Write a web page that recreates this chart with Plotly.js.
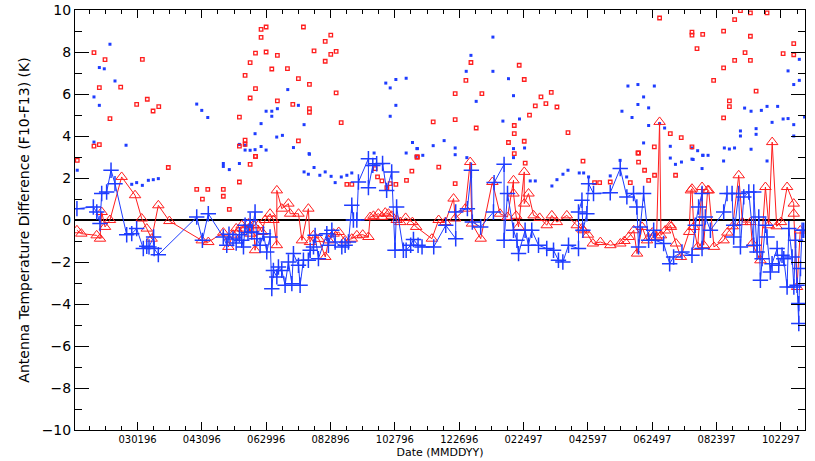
<!DOCTYPE html>
<html>
<head>
<meta charset="utf-8">
<script src="https://cdn.plot.ly/plotly-3.0.1.min.js"></script>
<style>html,body{margin:0;padding:0;background:#fff;}#chart{width:815px;height:461px;}</style>
</head>
<body>
<div id="chart"></div>
<script>
// x values: days since 01 Jan 1996
const tickDays = [60, 120, 180, 240, 300, 360, 420, 480, 540, 600, 660];
const tickLabels = ["030196", "043096", "062996", "082896", "102796", "122696", "022497", "042597", "062497", "082397", "102297"];

// Blue crosses with line
const blueLineDays = [3.5,18.8,22,25,26.6,31.2,35.3,39,49.9,54.6,59.2,65.4,68.6,70.7,75,75.5,79.4,115.2,120.5,126,140,143.2,145.3,149,152,155,157.2,158.8,160.3,163,165,166.5,169.6,171.2,174.3,177.4,180.5,183.6,185.2,186.7,189.9,191.4,194.5,197.6,200.7,203.9,205.4,210.1,211.6,214.7,219.3,221,224.1,225.6,228.7,236.5,238,241.2,244.3,250.5,253.6,256.7,259.8,261.3,264.5,266,275.3,275.3,279.4,283,288.5,292.3,297,300.1,301.6,307.9,310.5,314.7,317.3,321.6,325.3,336.2,347.4,356.7,356.7,367.6,371.3,372.2,380,391.9,392.5,401.8,401.8,405,410.6,413.8,415.3,421.4,424.5,427.6,433.9,441.6,447.9,452.5,456.6,461.9,471.2,471.2,474.4,475.3,479,480.6,485.2,500.8,510.1,516.3,522.5,525.6,527.2,528.8,531.9,536.6,541.3,542.8,550.6,556.2,559.9,567.7,577,580.1,583.2,586.4,586.4,589.5,594.2,606.6,609.7,614.4,615.9,615.9,620.5,622.2,625.3,630,634.6,634.6,637.7,639.3,640.8,642.4,645.5,647,650.1,651.7,656.4,657.9,661,662.6,665.7,667.3,670.4,672,673.6,675,676.6,676.6,678.2,679.7,681.2];
const blueLineVals = [0.54,0.62,0.38,-0.17,1.26,1.33,2.37,1.73,-0.7,-0.65,-0.41,-1.36,-1.25,-1.28,-0.81,-1.36,-1.65,0.14,-0.97,0.3,-0.81,-1.2,-0.68,-0.9,-1.1,-0.7,-0.97,-1.28,-0.25,-0.6,-0.01,-0.57,0.38,-0.89,-1.2,-0.65,-1.52,-0.81,-3.27,-2.4,-2.71,-2.24,-2.4,-3.11,-2.0,-3.03,-1.6,-2.16,-3.11,-1.92,-1.92,-1.44,-1.28,-0.73,-1.84,-0.65,-1.2,-0.49,-1.05,-1.28,-1.2,-1.05,0.7,0.0,0.0,1.81,2.92,1.54,2.6,2.68,2.69,1.41,2.29,-1.44,0.62,-1.44,-1.44,-1.2,-0.93,-1.2,-1.28,-1.28,-0.25,-0.89,0.38,0.54,2.37,-0.1,-0.33,0.38,1.78,2.65,-0.97,1.26,-0.49,-0.97,-1.6,-0.49,-1.2,-0.49,-1.2,-1.36,-1.44,-1.92,-2.0,-1.2,-1.36,0.38,0.94,-0.49,0.3,1.73,1.26,1.3,2.45,1.1,1.26,0.62,-1.28,-0.33,1.26,-0.97,-0.49,-0.97,-1.12,-2.08,-1.76,-1.52,-1.68,-0.25,0.62,1.26,-1.36,0.14,-0.49,0.38,1.26,1.26,-0.25,-0.81,1.26,-1.28,1.1,1.33,-1.2,1.33,-1.52,0.14,-2.87,-1.84,-0.25,-0.81,-2.48,-2.08,-1.36,-2.16,-1.68,-1.84,-3.19,-0.41,-1.76,-3.19,-0.97,-3.11,-4.93,-3.98,-2.31,-0.49,-0.49];

// Red triangles with line
const redLineDays = [3.5,7.6,21.9,25,26.6,29.7,34.3,45.2,57.7,63.9,68.6,73.2,79.4,89.7,119.9,126,140,144.7,149,152,154,157.2,160.3,163.4,165,168.1,169.6,172.7,175.9,179,183.6,186.7,189.9,189.9,194.5,200.7,202.3,210.1,213.3,219.3,220.8,224,229,235.1,238.2,242.9,247.6,253.6,259.8,264.5,270,275.3,276.9,280,284.6,288,291,294,297,301.7,305,310,316.3,319.8,334.5,340.8,347,354.7,356.2,365.6,370.2,371.8,380,390.9,398,405,410.6,410.6,413,415.3,420.6,420.6,424.6,429.3,435,441.6,446.3,451,460.3,469.6,474.3,475.8,480,484.6,491.6,500.9,510.2,514,518,522.7,525.8,530.5,535.1,540,544,546.8,548.1,552,556.9,557.4,562.1,566.7,574.4,576,577,578.6,582.3,586.4,587.9,591.6,592.6,597.5,606.5,610,615,620.6,624,631.6,633.2,640.8,645.5,648.6,651.8,656,660,665.7,671.9,671.9,675,678];
const redLineVals = [-0.49,-0.65,-0.73,-0.89,0.38,-0.33,0.0,2.05,1.18,0.07,-0.41,-0.89,0.7,-0.05,-0.97,-1.05,-0.6,-1.28,-0.7,-0.4,-0.57,-0.25,-0.41,-0.17,-0.65,-0.25,-1.44,-0.25,-0.57,0.0,0.3,0.0,-1.2,1.41,0.54,0.78,0.3,0.3,-0.97,0.54,-1.05,-0.73,-0.9,-1.76,-0.97,-0.65,-0.57,-0.97,-0.89,-0.73,-0.7,-0.81,0.14,0.2,0.3,0.15,0.35,0.3,0.2,0.0,-0.1,0.1,-0.1,-0.33,-0.89,0.0,-0.1,1.02,0.07,0.54,2.76,-0.17,-0.89,1.81,0.3,0.14,1.89,1.26,0.2,-0.33,2.29,0.78,1.26,0.22,0.1,-0.25,0.22,-0.1,0.22,-0.25,-0.41,-0.49,-0.7,-1.12,-1.05,-1.2,-1.12,-1.0,-0.81,-0.49,-1.6,-0.33,-0.97,-0.6,-0.8,4.67,-0.73,-0.5,-0.25,-0.33,-1.12,-1.76,-0.57,1.41,1.49,-0.33,-1.28,1.57,-1.2,1.41,1.41,-1.28,-0.97,-0.6,-0.3,2.13,-0.1,-0.1,-1.12,-1.92,1.57,-0.25,3.71,-0.3,-0.1,1.57,0.78,0.3,-3.19,-0.5];

// Blue dots (no line)
const blueDotDays = [34.3,24.4,29,39,19.4,24.4,49.3,19.4,115.2,119.9,125.5,175.2,169.6,179.9,185.2,185.2,190.4,189.8,195.1,200.1,205.4,210,215.3,220,155,160.3,160.3,165,169.6,175.2,179.9,291.5,295.6,300.9,310.5,295.6,300.9,316.4,310.5,320.5,280.6,391.4,370.9,366.5,391.4,405.9,410.6,375.8,400.7,416.2,321,326,335.7,345.9,356.2,356.2,410.6,420.9,410.6,511.7,517.3,526.6,541.9,531.9,526.6,536.6,521.1,536.6,546.8,551.5,531.9,556.8,556.8,577,577,582.3,587,592,626.1,632.1,641.7,647,656.9,651.7,662,666.6,671.9,677.1,671.9,677.1,666.6,682,622.2,622.2,636.8,636.8,671.9,607.2,611.9,616.7,632.1,3.8,54.6,59.2,64.5,70.1,74.7,79.4,140,140,145.6,155,215.3,219.3,224.6,230,235,240.5,244.3,250,255.2,259.8,220.3,319.8,367.1,426.2,430.9,446.4,451.1,456.7,461.4,471.9,476,480.6,500.8,510,516.1,561.6,567.2,578.1,586.4,587.3,606.5,647];
const blueDotVals = [8.37,7.26,7.2,6.62,5.86,5.46,3.56,3.71,5.52,5.22,4.88,4.59,4.11,5.18,5.18,4.94,5.3,3.95,4.03,6.21,3.45,5.46,4.54,3.16,3.6,3.56,3.33,3.32,3.35,3.5,3.33,6.52,6.29,6.69,6.75,4.94,5.46,3.69,3.19,3.4,3.19,8.71,7.84,7.08,7.08,6.73,5.92,5.65,4.71,4.81,3.4,3.08,3.54,3.78,3.43,3.11,3.4,3.43,2.97,5.18,6.38,6.45,6.38,5.86,5.5,5.34,4.88,4.5,4.59,4.38,3.67,3.51,2.95,3.43,2.9,3.3,3.08,3.08,5.33,5.18,5.22,5.41,5.41,4.65,4.81,4.83,4.54,6.65,6.45,7.65,7.1,4.9,4.24,4.0,4.35,4.08,4.0,3.43,3.38,3.43,3.37,2.37,1.7,1.78,1.65,1.89,1.92,1.97,2.69,2.55,2.4,2.69,2.29,2.18,2.5,2.13,2.29,2.08,1.78,2.05,2.13,2.24,3.13,3.03,2.97,1.86,1.86,1.62,1.92,2.18,2.37,2.24,2.24,2.05,2.1,2.84,2.05,2.65,2.76,2.88,2.45,3.08,2.81,2.81,2.76];

// Red open squares (no line)
const redSqDays = [19.4,29.7,24.4,44.3,59.2,69.1,74.5,79.8,34.3,64.5,19.4,24.4,155,160.3,160.3,155,160.3,165,170,170,165,170,175.2,175.2,179.9,179.9,185.2,190.4,190.4,199.8,204.8,210,210,214.7,220.3,220.3,220.3,224.6,235,235,240.2,240.2,245.2,245.2,249.9,320.5,546.8,577,577,587,581.7,606.5,616.8,622.2,631.5,647,631.5,626.5,616.8,631.5,606.5,597.2,636.8,611.9,611.9,606.5,671.9,662,671.9,335.7,356.2,356.2,370.9,366.2,381.1,375.8,415.9,420.6,430.9,436.2,440.8,445.8,451.1,425.5,411.3,411.3,405.9,411.3,420.6,461.4,321,541.9,526.6,556.8,567,577,3.8,88.7,115.2,120.5,125.5,140,140,145.6,155,165,170,255.2,259.8,281.6,287.9,292.5,295.6,300.9,310.8,283.8,315.8,340.9,356.2,421.5,475.4,486.2,490.9,500.8,519.5,527.2,527.2,532.8,536.6,542.1,561.7];
const redSqVals = [7.97,7.64,6.3,6.33,5.51,5.75,5.19,5.4,4.83,7.65,3.52,3.59,4.9,3.8,3.6,3.52,6.89,7.49,7.95,6.26,5.81,3.03,9.08,8.7,9.19,8.0,7.19,7.84,5.67,7.21,5.51,6.73,3.77,9.19,6.46,5.3,5.13,8.05,8.51,7.56,8.8,7.89,8.03,6.05,4.64,3.0,9.62,8.95,8.8,8.84,8.16,8.99,9.54,9.97,9.86,9.86,8.75,7.97,7.6,7.6,7.24,6.65,6.14,5.67,5.4,4.86,8.4,7.92,7.87,4.67,6.02,4.78,7.5,6.65,6.02,4.38,7.37,6.69,5.43,5.86,5.54,6.08,5.38,4.99,4.5,4.11,3.69,3.16,3.75,4.16,3.0,3.48,3.19,4.11,3.92,3.48,2.84,2.5,1.46,0.99,1.46,1.46,1.13,0.51,1.81,2.65,3.03,1.7,1.7,2.45,1.86,1.54,1.73,1.7,1.89,2.05,2.33,2.52,1.73,2.71,2.8,1.78,1.78,1.81,1.78,3.19,2.76,2.37,1.89,2.13,2.13];

const BLUE = 'rgb(30,60,255)';
const RED = 'rgb(255,30,30)';

const traces = [
  {x: blueDotDays, y: blueDotVals, type: 'scatter', mode: 'markers',
   marker: {symbol: 'square', size: 3, color: BLUE}, hoverinfo: 'skip'},
  {x: redSqDays, y: redSqVals, type: 'scatter', mode: 'markers',
   marker: {symbol: 'square-open', size: 3.5, color: RED, line: {width: 1.3, color: RED}}, hoverinfo: 'skip'},
  {x: redLineDays, y: redLineVals, type: 'scatter', mode: 'lines+markers',
   line: {color: RED, width: 1},
   marker: {symbol: 'triangle-up-open', size: 10, color: RED, line: {width: 1, color: RED}}, hoverinfo: 'skip'},
  {x: blueLineDays, y: blueLineVals, type: 'scatter', mode: 'lines+markers',
   line: {color: BLUE, width: 1},
   marker: {symbol: 'cross-thin-open', size: 11, color: BLUE, line: {width: 1.5, color: BLUE}}, hoverinfo: 'skip'}
];

const layout = {
  width: 815, height: 461,
  margin: {l: 75, r: 10, t: 10, b: 31, pad: 0},
  paper_bgcolor: '#fff', plot_bgcolor: '#fff',
  showlegend: false,
  font: {family: 'DejaVu Sans, sans-serif', color: '#000'},
  xaxis: {
    range: [1.7, 682.4], tickmode: 'array', tickvals: tickDays, ticktext: tickLabels,
    ticks: 'inside', ticklen: 8, tickwidth: 1, tickcolor: '#000',
    showline: true, linecolor: '#000', linewidth: 1, mirror: 'allticks',
    showgrid: false, zeroline: false,
    tickfont: {size: 10, family: 'DejaVu Sans, sans-serif'},
    minor: {tickmode: 'linear', tick0: 0, dtick: 15, ticks: 'inside', ticklen: 4, tickcolor: '#000', showgrid: false},
    title: {text: 'Date (MMDDYY)', font: {size: 11}, standoff: 4}
  },
  yaxis: {
    range: [-10, 10], tickmode: 'linear', tick0: -10, dtick: 2,
    ticks: 'inside', ticklen: 14, tickwidth: 1, tickcolor: '#000',
    showline: true, linecolor: '#000', linewidth: 1, mirror: 'allticks',
    showgrid: false, zeroline: true, zerolinecolor: '#000', zerolinewidth: 2,
    tickfont: {size: 14, family: 'DejaVu Sans, sans-serif'},
    minor: {tickmode: 'linear', tick0: -10, dtick: 1, ticks: 'inside', ticklen: 7, tickcolor: '#000', showgrid: false},
    title: {text: 'Antenna Temperature Difference (F10-F13) (K)', font: {size: 14}, standoff: 8}
  }
};

Plotly.newPlot('chart', traces, layout, {displayModeBar: false, staticPlot: true});
</script>
</body>
</html>
